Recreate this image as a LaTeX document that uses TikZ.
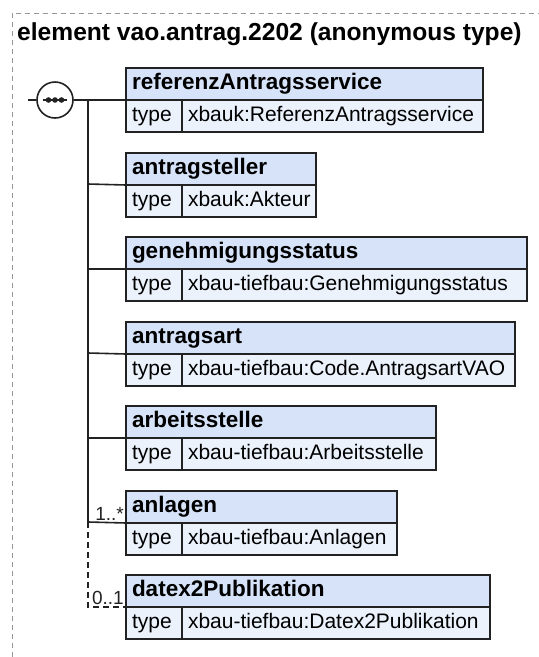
\documentclass[tikz,border=0pt]{standalone}
\usepackage{fontspec}
\setmainfont{Liberation Sans}
\definecolor{hdrfill}{RGB}{214,227,248}
\definecolor{typefill}{RGB}{235,242,252}
\definecolor{boxline}{RGB}{34,34,34}
\definecolor{frameline}{RGB}{150,150,150}
\tikzset{
  cell/.style={draw=boxline, line width=1.3pt, anchor=north west, outer sep=0pt,
    inner xsep=6pt, inner ysep=0pt, minimum height=32pt, align=left,
    text height=16pt, text depth=5pt},
  hdr/.style={cell, fill=hdrfill, text width=#1, font=\fontsize{22.5}{26}\selectfont\bfseries},
  typelbl/.style={cell, fill=typefill, text width=44pt, font=\fontsize{21}{25}\selectfont},
  typeval/.style={cell, fill=typefill, text width=#1, font=\fontsize{21}{25}\selectfont},
  wire/.style={draw=boxline, line width=1.6pt},
  optwire/.style={wire, dash pattern=on 6pt off 4pt},
  card/.style={inner sep=0pt, font=\fontsize{19}{22}\selectfont, text=boxline},
}
\begin{document}
\begin{tikzpicture}[x=1pt,y=-1pt]
\useasboundingbox (0,0) rectangle (539,657);

% dashed frame of the element
\draw[frameline, line width=0.9pt, dash pattern=on 5pt off 4pt] (12,657) -- (12,13) -- (539,13);

\node[anchor=base west, inner sep=0pt, font=\fontsize{24.6}{29}\selectfont\bfseries]
  (title) at (17,40) {element vao.antrag.2202 (anonymous type)};

% sequence compositor
\node[circle, draw=boxline, line width=1.6pt, fill=white, minimum size=36pt, inner sep=0pt] (seq) at (55,100) {};
\draw[wire] ([xshift=-12pt]seq.center) -- ([xshift=12pt]seq.center);
\foreach \dx in {-6.5,0,6.5}
  \fill[boxline] ([xshift=\dx pt]seq.center) circle (2.8pt);
\coordinate (in) at (28,100);
\draw[wire] (in) -- (seq.west);

% child elements
\node[hdr=345pt] (h1) at (126,68) {referenzAntragsservice};
\node[typelbl] (t1) at (h1.south west) {type};
\node[typeval=289pt] (v1) at (t1.north east) {xbauk:ReferenzAntragsservice};

\node[hdr=178pt] (h2) at (126,153) {antragsteller};
\node[typelbl] (t2) at (h2.south west) {type};
\node[typeval=122pt] (v2) at (t2.north east) {xbauk:Akteur};

\node[hdr=389pt] (h3) at (126,237) {genehmigungsstatus};
\node[typelbl] (t3) at (h3.south west) {type};
\node[typeval=333pt] (v3) at (t3.north east) {xbau-tiefbau:Genehmigungsstatus};

\node[hdr=377pt] (h4) at (126,322) {antragsart};
\node[typelbl] (t4) at (h4.south west) {type};
\node[typeval=321pt] (v4) at (t4.north east) {xbau-tiefbau:Code.AntragsartVAO};

\node[hdr=298pt] (h5) at (126,406) {arbeitsstelle};
\node[typelbl] (t5) at (h5.south west) {type};
\node[typeval=242pt] (v5) at (t5.north east) {xbau-tiefbau:Arbeitsstelle};

\node[hdr=259pt] (h6) at (126,491) {anlagen};
\node[typelbl] (t6) at (h6.south west) {type};
\node[typeval=203pt] (v6) at (t6.north east) {xbau-tiefbau:Anlagen};

\node[hdr=352pt] (h7) at (126,575) {datex2Publikation};
\node[typelbl] (t7) at (h7.south west) {type};
\node[typeval=296pt] (v7) at (t7.north east) {xbau-tiefbau:Datex2Publikation};

% connectors from the sequence
\coordinate (j1) at (88,100);
\coordinate (j2) at (88,184);
\coordinate (j3) at (88,269);
\coordinate (j4) at (88,353);
\coordinate (j5) at (88,438);
\coordinate (j6) at (88,522);
\coordinate (j7) at (88,607);
\draw[wire] (seq.east) -- (h1.south west);
\draw[wire] (j1) -- (j6);
\draw[wire] (j2) -- (h2.south west);
\draw[wire] (j3) -- (h3.south west);
\draw[wire] (j4) -- (h4.south west);
\draw[wire] (j5) -- (h5.south west);
\draw[wire] (j6) -- (h6.south west);
\draw[optwire] (j6) -- (j7) -- (h7.south west);

% occurrence labels
\node[card, anchor=base east, xshift=-2pt, yshift=3pt] (occ6) at (h6.south west) {1..*};
\node[card, anchor=base east, xshift=-2pt, yshift=3pt] (occ7) at (h7.south west) {0..1};
\end{tikzpicture}
\end{document}
